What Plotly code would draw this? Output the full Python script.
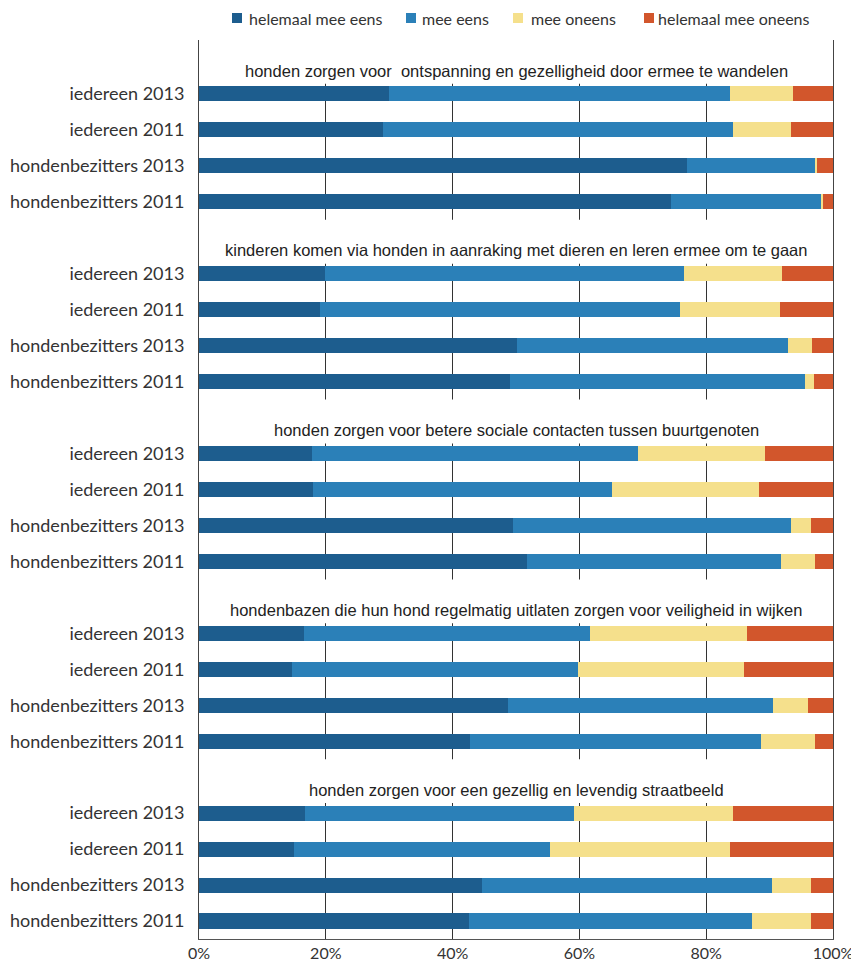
import plotly.graph_objects as go

# ---- data ----
statements = [
    "honden zorgen voor  ontspanning en gezelligheid door ermee te wandelen",
    "kinderen komen via honden in aanraking met dieren en leren ermee om te gaan",
    "honden zorgen voor betere sociale contacten tussen buurtgenoten",
    "hondenbazen die hun hond regelmatig uitlaten zorgen voor veiligheid in wijken",
    "honden zorgen voor een gezellig en levendig straatbeeld",
]
groups = ["iedereen 2013", "iedereen 2011", "hondenbezitters 2013", "hondenbezitters 2011"]
series_names = ["helemaal mee eens", "mee eens", "mee oneens", "helemaal mee oneens"]

# values per statement, rows = groups, in %
helemaal_mee_eens = [
    [30.0, 29.0, 76.9, 74.5],
    [19.9, 19.1, 50.1, 49.1],
    [17.8, 18.0, 49.5, 51.7],
    [16.6, 14.6, 48.8, 42.7],
    [16.7, 15.0, 44.6, 42.6],
]
mee_eens = [
    [53.8, 55.3, 20.3, 23.7],
    [56.6, 56.8, 42.8, 46.5],
    [51.4, 47.2, 43.9, 40.1],
    [45.0, 45.1, 41.8, 46.0],
    [42.4, 40.3, 45.7, 44.7],
]
mee_oneens = [
    [9.9, 9.1, 0.3, 0.3],
    [15.4, 15.7, 3.8, 1.4],
    [20.1, 23.1, 3.2, 5.4],
    [24.8, 26.3, 5.5, 8.5],
    [25.2, 28.5, 6.3, 9.3],
]
helemaal_mee_oneens = [
    [6.3, 6.6, 2.5, 1.5],
    [8.1, 8.4, 3.3, 3.0],
    [10.7, 11.7, 3.4, 2.8],
    [13.6, 14.0, 3.9, 2.8],
    [15.7, 16.2, 3.4, 3.4],
]
x_ticks = [0, 20, 40, 60, 80, 100]
x_ticklabels = ["0%", "20%", "40%", "60%", "80%", "100%"]

colors = ["#1d5d8e", "#2b80b8", "#f5e08c", "#d2562c"]
series = [helemaal_mee_eens, mee_eens, mee_oneens, helemaal_mee_oneens]

# page body has an 8px margin; compensate so the plot lands where intended
OFF = 8
W, H = 859 - OFF, 971 - OFF
L, R, T, B = 199 - OFF, 26, 40 - OFF, 32
PW, PH = W - L - R, H - T - B


def px(xp):  # page pixel -> paper x
    return (xp - OFF - L) / PW


def py(yp):  # page pixel -> paper y
    return (H - B - (yp - OFF)) / PH


# slot positions: each statement uses 5 slots (title + 4 bars)
ypos, ylab = [], []
for g in range(len(statements)):
    for i, lab in enumerate(groups):
        ypos.append(5 * g + 1 + i)
        ylab.append(lab)

fig = go.Figure()
for name, col, data in zip(series_names, colors, series):
    vals = [v for row in data for v in row]
    fig.add_trace(go.Bar(
        x=vals, y=ypos, orientation="h", name=name,
        marker=dict(color=col, line=dict(width=0)),
        width=0.42, hoverinfo="skip", showlegend=False,
    ))

shapes = []
annotations = []
nslots = 5 * len(statements)
for g, st in enumerate(statements):
    # white band over the title area (hides gridlines there)
    shapes.append(dict(type="rect", xref="x", yref="y", layer="above",
                       x0=0.25, x1=99.75, y0=5 * g - 0.5, y1=5 * g + 0.72,
                       fillcolor="white", line=dict(width=0)))
    annotations.append(dict(xref="x", yref="y", x=50, y=5 * g + 0.35,
                            text=st, showarrow=False,
                            font=dict(family="Liberation Sans, Arial", size=16.5,
                                      color="#222"),
                            xanchor="center", yanchor="middle"))

# manual legend (top)
leg_sq = [237, 411, 518, 649]
leg_tx = [247, 420, 529, 656]
leg_y = 18
for name, col, sx, tx in zip(series_names, colors, leg_sq, leg_tx):
    shapes.append(dict(type="rect", xref="paper", yref="paper", layer="above",
                       x0=px(sx - 5), x1=px(sx + 5), y0=py(leg_y + 5), y1=py(leg_y - 5),
                       fillcolor=col, line=dict(width=0)))
    annotations.append(dict(xref="paper", yref="paper", x=px(tx), y=py(leg_y),
                            text=name, showarrow=False, xanchor="left", yanchor="middle",
                            font=dict(family="Lato, Open Sans, sans-serif", size=16,
                                      color="#333")))

fig.update_layout(
    width=W, height=H,
    margin=dict(l=L, r=R, t=T, b=B, autoexpand=False),
    barmode="stack", bargap=0,
    plot_bgcolor="white", paper_bgcolor="white",
    showlegend=False,
    shapes=shapes,
    annotations=annotations,
    xaxis=dict(range=[0, 100], tickvals=x_ticks, ticktext=x_ticklabels,
               showgrid=True, gridcolor="#333", gridwidth=1.2,
               showline=True, linecolor="#555", linewidth=1,
               zeroline=False, ticks="", automargin=False,
               tickfont=dict(family="Lato, Open Sans, sans-serif", size=16, color="#333"),
               fixedrange=True),
    yaxis=dict(range=[nslots - 0.5, -0.5], tickvals=ypos, ticktext=ylab,
               showgrid=False, zeroline=False, automargin=False,
               showline=True, mirror=True, linecolor="#444", linewidth=1,
               ticks="", ticklabelstandoff=10,
               tickfont=dict(family="Lato, Open Sans, sans-serif", size=18, color="#333"),
               fixedrange=True),
)

fig.write_html("out.html")
